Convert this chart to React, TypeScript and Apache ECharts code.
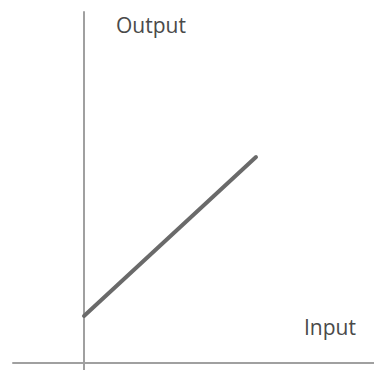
import React, { useEffect, useRef } from "react";
import * as echarts from "echarts";

const lineInput: number[] = [0, 172];
const lineOutput: number[] = [47, 206];
const xAxisName = "Input";
const yAxisName = "Output";

export default function App() {
  const ref = useRef<HTMLDivElement>(null);
  useEffect(() => {
    if (!ref.current) return;
    const chart = echarts.init(ref.current, null, { renderer: "svg" });
    const font = "'Open Sans', 'Noto Sans', sans-serif";
    chart.setOption({
      animation: false,
      grid: { left: 13, right: 0, top: 12, bottom: 0 },
      xAxis: {
        type: "value",
        min: -71,
        max: 290,
        axisLine: { show: true, onZero: true, lineStyle: { color: "#a0a0a0", width: 2 } },
        axisTick: { show: false },
        axisLabel: { show: false },
        splitLine: { show: false },
      },
      yAxis: {
        type: "value",
        min: -7,
        max: 351,
        axisLine: { show: true, onZero: true, lineStyle: { color: "#a0a0a0", width: 2 } },
        axisTick: { show: false },
        axisLabel: { show: false },
        splitLine: { show: false },
      },
      graphic: [
        {
          type: "text",
          x: 116,
          y: 25,
          style: {
            text: yAxisName,
            fontFamily: font,
            fontSize: 21,
            fill: "#4a4a4a",
            verticalAlign: "middle",
            align: "left",
          },
        },
        {
          type: "text",
          x: 304,
          y: 327,
          style: {
            text: xAxisName,
            fontFamily: font,
            fontSize: 21,
            fill: "#4a4a4a",
            verticalAlign: "middle",
            align: "left",
          },
        },
      ],
      series: [
        {
          type: "line",
          data: lineInput.map((x, i) => [x, lineOutput[i]]),
          showSymbol: false,
          lineStyle: { color: "#6a6a6a", width: 4, cap: "round" },
        },
      ],
    });
    return () => chart.dispose();
  }, []);
  return (
    <div
      ref={ref}
      style={{ position: "fixed", left: 0, top: 0, width: 374, height: 370, background: "#fff" }}
    />
  );
}
